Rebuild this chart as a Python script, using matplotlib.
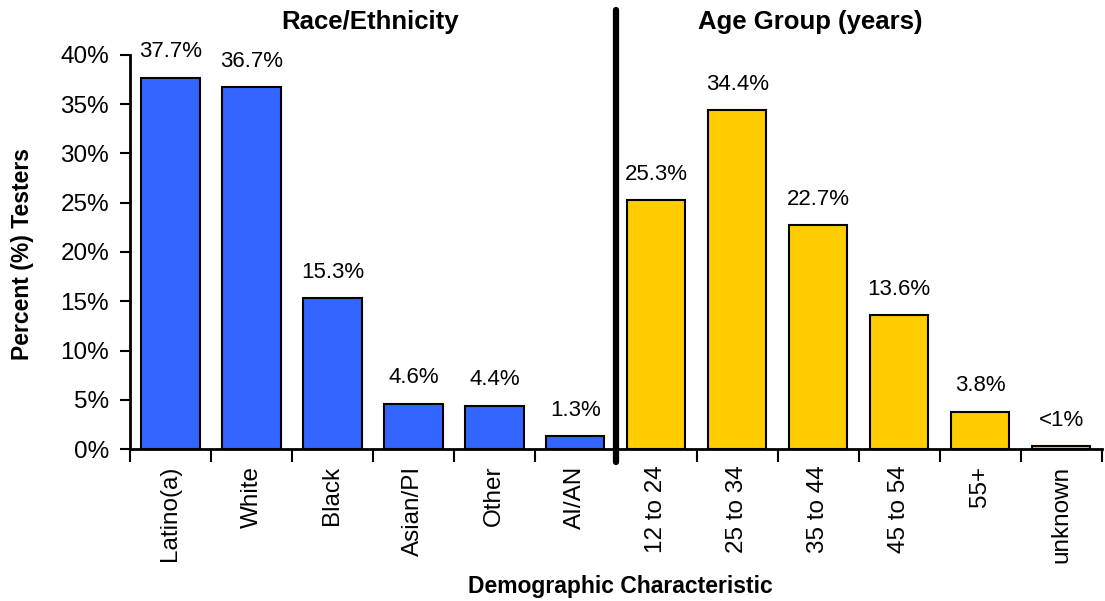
import matplotlib.pyplot as plt
import numpy as np

plt.rcParams['font.family'] = ['Liberation Sans', 'DejaVu Sans']

race_labels = ['Latino(a)', 'White', 'Black', 'Asian/PI', 'Other', 'AI/AN']
race_values = [37.7, 36.7, 15.3, 4.6, 4.4, 1.3]
race_text = ['37.7%', '36.7%', '15.3%', '4.6%', '4.4%', '1.3%']

age_labels = ['12 to 24', '25 to 34', '35 to 44', '45 to 54', '55+', 'unknown']
age_values = [25.3, 34.4, 22.7, 13.6, 3.8, 0.3]
age_text = ['25.3%', '34.4%', '22.7%', '13.6%', '3.8%', '<1%']


def main():
    fig = plt.figure(figsize=(11.05, 6.01), dpi=100)
    ax = fig.add_axes([0.1176, 0.2529, 0.8794, 0.6556])

    labels = race_labels + age_labels
    values = race_values + age_values
    texts = race_text + age_text
    colors = ['#3366FF'] * len(race_values) + ['#FFCC00'] * len(age_values)
    x = np.arange(len(values))

    bars = ax.bar(x, values, width=0.72, color=colors, edgecolor='black', linewidth=1.5)
    for b, t in zip(bars, texts):
        ax.annotate(t, (b.get_x() + b.get_width() / 2, b.get_height()),
                    xytext=(0, 11), textcoords='offset points',
                    ha='center', va='bottom', fontsize=16)

    ax.set_xlim(-0.5, len(values) - 0.5)
    ax.set_ylim(0, 40)
    ax.set_yticks(np.arange(0, 41, 5))
    ax.set_yticklabels([f'{v}%' for v in range(0, 41, 5)], fontsize=17.5)
    ax.set_xticks(x)
    ax.set_xticklabels(labels, rotation=90, fontsize=17.5, va='top')
    ax.set_xticks(np.arange(-0.5, len(values), 1), minor=True)
    ax.tick_params(axis='x', which='major', length=0, pad=12)
    ax.tick_params(axis='x', which='minor', length=9, width=1.5, direction='out')
    ax.tick_params(axis='y', length=7, width=1.5, direction='out', pad=8)

    for s in ['top', 'right']:
        ax.spines[s].set_visible(False)
    for s in ['left', 'bottom']:
        ax.spines[s].set_linewidth(2)

    ax.set_ylabel('Percent (%) Testers', fontsize=16.5, fontweight='bold', va='center')
    ax.set_xlabel('Demographic Characteristic', fontsize=16.5, fontweight='bold', va='center')
    ax.yaxis.set_label_coords(-0.111, 0.495)
    ax.xaxis.set_label_coords(0.505, -0.348)

    # divider between the two groups
    ax.plot([5.5, 5.5], [-0.033, 1.114], color='black', linewidth=4.5,
            transform=ax.get_xaxis_transform(), clip_on=False, solid_capstyle='round')

    ax.text(2.46, 1.085, 'Race/Ethnicity', transform=ax.get_xaxis_transform(),
            ha='center', va='center', fontsize=18.5, fontweight='bold')
    ax.text(7.9, 1.085, 'Age Group (years)', transform=ax.get_xaxis_transform(),
            ha='center', va='center', fontsize=18.5, fontweight='bold')

    plt.savefig('out.png', dpi=100)


if __name__ == "__main__":
    main()
